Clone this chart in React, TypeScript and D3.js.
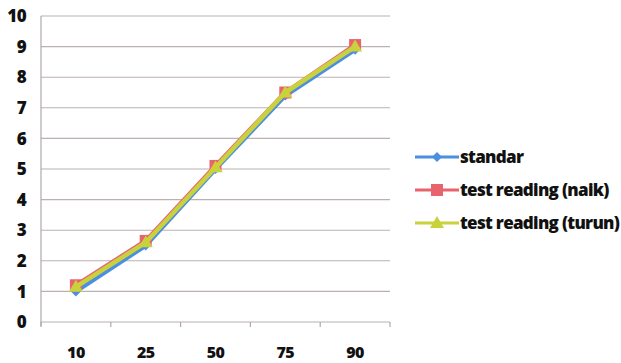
import React from "react";
import * as d3 from "d3";

const categories = ["10", "25", "50", "75", "90"];
const standar = [1.0, 2.5, 5.0, 7.4, 8.9];
const naik = [1.2, 2.65, 5.1, 7.5, 9.05];
const turun = [1.15, 2.6, 5.05, 7.5, 9.0];
const yTicks = [0, 1, 2, 3, 4, 5, 6, 7, 8, 9, 10];

const seriesNames = ["standar", "test reading (naik)", "test reading (turun)"];
const seriesColors = ["#4a8fe0", "#e8636e", "#c9d23c"];

const W = 621;
const H = 363;
const left = 41;
const right = 390;
const top = 16;
const bottom = 322;
const font = "'Open Sans', 'Noto Sans', sans-serif";

function Marker({ kind, x, y, color }: { kind: number; x: number; y: number; color: string }) {
  if (kind === 0) {
    const r = 5;
    return <path d={`M${x},${y - r}L${x + r},${y}L${x},${y + r}L${x - r},${y}Z`} fill={color} />;
  }
  if (kind === 1) {
    return <rect x={x - 6} y={y - 6} width={12} height={12} fill={color} />;
  }
  const s = 7;
  return <path d={`M${x},${y - s}L${x + s},${y + s * 0.7}L${x - s},${y + s * 0.7}Z`} fill={color} />;
}

export default function App() {
  const x = d3.scaleBand<string>().domain(categories).range([left, right]);
  const y = d3.scaleLinear().domain([0, 10]).range([bottom, top]);
  const cx = (c: string) => (x(c) as number) + x.bandwidth() / 2;
  const all = [standar, naik, turun];
  const line = d3
    .line<number>()
    .x((_, i) => cx(categories[i]))
    .y((v) => y(v));
  const boundaries = [...categories.map((c) => x(c) as number), right];

  return (
    <svg width={W} height={H} style={{ position: "absolute", left: 0, top: 0, background: "#fff" }}>
      {yTicks.map((t) => (
        <g key={t}>
          <line x1={left} x2={right} y1={y(t)} y2={y(t)} stroke="#bbb1b2" strokeWidth={1.1} />
          <text
            x={26}
            y={y(t)}
            dy="0.36em"
            textAnchor="end"
            fontFamily={font}
            fontWeight={800}
            fontSize={17}
            letterSpacing={-0.6}
            fill="#111"
          >
            {t}
          </text>
        </g>
      ))}
      <line x1={left} x2={left} y1={top} y2={bottom + 4} stroke="#b0a8aa" strokeWidth={1.2} />
      {boundaries.map((b, i) => (
        <line key={i} x1={b} x2={b} y1={bottom} y2={bottom + 5} stroke="#b0a8aa" strokeWidth={1.2} />
      ))}
      {categories.map((c) => (
        <text
          key={c}
          x={cx(c)}
          y={bottom + 36}
          textAnchor="middle"
          fontFamily={font}
          fontWeight={800}
          fontSize={16}
          letterSpacing={-0.6}
          fill="#111"
        >
          {c}
        </text>
      ))}
      {all.map((s, k) => (
        <g key={k}>
          <path d={line(s) || ""} fill="none" stroke={seriesColors[k]} strokeWidth={4.5} strokeLinejoin="round" />
          {s.map((v, i) => (
            <Marker key={i} kind={k} x={cx(categories[i])} y={y(v)} color={seriesColors[k]} />
          ))}
        </g>
      ))}
      {seriesNames.map((n, k) => {
        const ly = 157 + k * 33;
        return (
          <g key={n}>
            <line x1={415} x2={459} y1={ly} y2={ly} stroke={seriesColors[k]} strokeWidth={3} />
            <Marker kind={k} x={437} y={ly} color={seriesColors[k]} />
            <text
              x={460}
              y={ly}
              dy="0.35em"
              fontFamily={font}
              fontWeight={800}
              fontSize={17}
              letterSpacing={-0.7}
              fill="#111"
            >
              {n}
            </text>
          </g>
        );
      })}
    </svg>
  );
}
